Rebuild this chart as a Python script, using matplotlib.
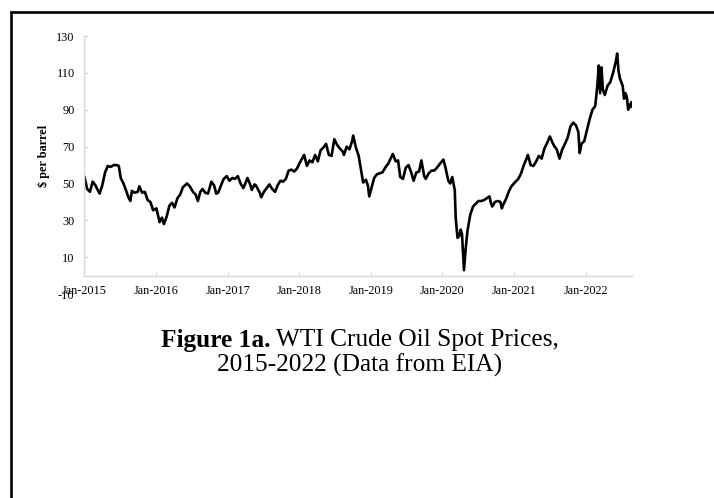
#!/usr/bin/env python3
import pandas as pd
import matplotlib.pyplot as plt
from matplotlib.lines import Line2D

# --- Dados (preço semanal aproximado) ---
DATAS = [
    "2015-01-02", "2015-01-16", "2015-01-30", "2015-02-13", "2015-02-27", "2015-03-13",
    "2015-03-20", "2015-04-03", "2015-04-17", "2015-05-01", "2015-05-15", "2015-06-01",
    "2015-06-15", "2015-06-26", "2015-07-06", "2015-07-20", "2015-08-03", "2015-08-14",
    "2015-08-24", "2015-09-01", "2015-09-15", "2015-10-01", "2015-10-09", "2015-10-23",
    "2015-11-06", "2015-11-20", "2015-12-04", "2015-12-18",
    "2016-01-04", "2016-01-20", "2016-02-01", "2016-02-11", "2016-02-25", "2016-03-10",
    "2016-03-24", "2016-04-05", "2016-04-20", "2016-05-04", "2016-05-18", "2016-06-08",
    "2016-06-22", "2016-07-08", "2016-07-22", "2016-08-02", "2016-08-15", "2016-08-26",
    "2016-09-09", "2016-09-23", "2016-10-10", "2016-10-24", "2016-11-04", "2016-11-14",
    "2016-11-30", "2016-12-12", "2016-12-28",
    "2017-01-10", "2017-01-25", "2017-02-08", "2017-02-22", "2017-03-08", "2017-03-22",
    "2017-04-05", "2017-04-12", "2017-04-26", "2017-05-04", "2017-05-18", "2017-05-25",
    "2017-06-14", "2017-06-21", "2017-07-05", "2017-07-19", "2017-08-02", "2017-08-16",
    "2017-08-31", "2017-09-13", "2017-09-27", "2017-10-11", "2017-10-25", "2017-11-08",
    "2017-11-22", "2017-12-06", "2017-12-20",
    "2018-01-05", "2018-01-26", "2018-02-09", "2018-02-23", "2018-03-09", "2018-03-23",
    "2018-04-06", "2018-04-20", "2018-05-04", "2018-05-18", "2018-06-01", "2018-06-15",
    "2018-06-29", "2018-07-13", "2018-07-27", "2018-08-10", "2018-08-17", "2018-08-31",
    "2018-09-14", "2018-09-28", "2018-10-03", "2018-10-17", "2018-10-31", "2018-11-14",
    "2018-11-23", "2018-12-07", "2018-12-17", "2018-12-24",
    "2019-01-04", "2019-01-18", "2019-02-01", "2019-02-15", "2019-03-01", "2019-03-15",
    "2019-04-01", "2019-04-23", "2019-05-08", "2019-05-20", "2019-05-31", "2019-06-14",
    "2019-06-28", "2019-07-12", "2019-07-26", "2019-08-07", "2019-08-21", "2019-09-04",
    "2019-09-16", "2019-09-30", "2019-10-08", "2019-10-23", "2019-11-06", "2019-11-20",
    "2019-12-04", "2019-12-18",
    "2020-01-06", "2020-01-17", "2020-01-31", "2020-02-10", "2020-02-20", "2020-03-04",
    "2020-03-09", "2020-03-18", "2020-03-27", "2020-04-03", "2020-04-10", "2020-04-20",
    "2020-04-29", "2020-05-08", "2020-05-22", "2020-06-05", "2020-06-19", "2020-07-03",
    "2020-07-17", "2020-07-31", "2020-08-14", "2020-08-28", "2020-09-04", "2020-09-11",
    "2020-09-25", "2020-10-09", "2020-10-23", "2020-10-30", "2020-11-06", "2020-11-20",
    "2020-12-04", "2020-12-18",
    "2021-01-08", "2021-01-22", "2021-02-05", "2021-02-19", "2021-03-05", "2021-03-12",
    "2021-03-26", "2021-04-09", "2021-04-23", "2021-05-07", "2021-05-21", "2021-06-04",
    "2021-06-18", "2021-07-02", "2021-07-16", "2021-07-23", "2021-08-06", "2021-08-20",
    "2021-09-03", "2021-09-17", "2021-10-01", "2021-10-15", "2021-10-29", "2021-11-12",
    "2021-11-24", "2021-12-01", "2021-12-10", "2021-12-24",
    "2022-01-07", "2022-01-21", "2022-02-04", "2022-02-18", "2022-03-01", "2022-03-08",
    "2022-03-15", "2022-03-22", "2022-03-29", "2022-04-08", "2022-04-22", "2022-05-06",
    "2022-05-20", "2022-06-03", "2022-06-10", "2022-06-17", "2022-06-24", "2022-07-08",
    "2022-07-15", "2022-07-22", "2022-07-29", "2022-08-05", "2022-08-12", "2022-08-19",
    "2022-08-22",
]
PRECOS = [
    53.5, 47.0, 45.5, 51.0, 49.0, 46.0,
    44.5, 49.0, 56.0, 59.5, 59.0, 60.0,
    60.0, 59.5, 53.0, 50.0, 46.0, 42.5,
    40.5, 46.0, 45.0, 45.5, 48.5, 45.0,
    45.5, 41.0, 40.0, 35.5,
    36.5, 29.0, 31.5, 28.0, 32.0, 38.0,
    39.5, 37.0, 42.0, 44.0, 48.0, 50.0,
    48.5, 45.5, 44.0, 40.5, 45.5, 47.0,
    45.0, 44.5, 51.0, 49.0, 44.5, 45.0,
    49.5, 52.5, 54.0,
    51.5, 53.0, 52.5, 54.0, 50.0, 47.5,
    51.0, 53.0, 49.5, 46.5, 49.5, 49.0,
    45.0, 42.5, 45.5, 47.5, 49.5, 47.0,
    45.5, 49.0, 51.5, 51.0, 52.5, 57.0,
    57.5, 56.5, 58.0,
    61.5, 65.5, 59.5, 62.5, 61.5, 65.5,
    62.0, 68.0, 69.5, 71.5, 65.5, 65.0,
    74.0, 71.0, 69.0, 67.5, 65.5, 70.0,
    68.5, 73.0, 76.0, 69.5, 65.0, 56.0,
    50.5, 52.0, 49.0, 43.0,
    47.5, 53.0, 55.0, 55.5, 56.0, 58.5,
    61.0, 66.0, 62.0, 62.5, 53.5, 52.5,
    58.5, 60.0, 56.0, 51.5, 56.0, 56.5,
    62.5, 54.0, 52.5, 55.5, 57.0, 57.0,
    58.5, 60.5,
    63.0, 58.5, 51.5, 50.0, 53.5, 46.5,
    31.0, 20.5, 21.5, 25.0, 22.5, 3.0,
    15.0, 24.5, 33.0, 37.5, 39.0, 40.5,
    40.5, 41.0, 42.0, 43.0, 39.5, 37.5,
    40.0, 40.5, 40.0, 36.5, 38.5, 41.5,
    45.5, 48.5,
    51.0, 52.5, 55.5, 60.0, 63.5, 65.5,
    60.0, 59.5, 62.0, 65.0, 63.5, 69.0,
    72.0, 75.5, 72.0, 70.5, 68.5, 63.5,
    68.5, 71.5, 75.0, 81.0, 83.0, 81.5,
    78.0, 66.5, 71.5, 73.0,
    79.0, 85.0, 90.0, 92.0, 103.0, 114.0,
    99.0, 113.0, 101.0, 98.0, 103.0, 105.0,
    110.0, 116.0, 120.5, 111.0, 107.0, 103.0,
    96.0, 99.0, 97.0, 90.0, 93.0, 91.5,
    94.0,
]
TICKS_Y = [-10, 10, 30, 50, 70, 90, 110, 130]
ANOS_X = list(range(2015, 2023))

FONTE = "Liberation Serif"
COR_EIXO = "#d9d9d9"


def gerar_grafico(caminho: str) -> None:
    fig = plt.figure(figsize=(7.14, 4.98), dpi=100)
    ax = fig.add_axes([0.118, 0.4094, 0.7667, 0.5183])

    datas = pd.to_datetime(DATAS)
    ax.plot(datas, PRECOS, color="black", lw=1.9, solid_joinstyle="round")

    ax.set_xlim(pd.Timestamp("2015-01-01"), pd.Timestamp("2022-08-23"))
    ax.set_ylim(-10, 130)

    # eixos no estilo Excel
    for lado in ("top", "right"):
        ax.spines[lado].set_visible(False)
    ax.spines["left"].set_bounds(0, 130)
    ax.spines["bottom"].set_position(("data", 0))
    for lado in ("left", "bottom"):
        ax.spines[lado].set_color(COR_EIXO)
        ax.spines[lado].set_linewidth(1.0)

    ticks_x = [pd.Timestamp(f"{a}-01-01") for a in ANOS_X]
    ax.set_xticks(ticks_x)
    ax.set_xticklabels([f"Jan-{a}" for a in ANOS_X])
    ax.set_yticks(TICKS_Y)
    ax.set_yticklabels([str(v) for v in TICKS_Y])

    ax.tick_params(axis="both", direction="in", length=3, width=1,
                   color=COR_EIXO, labelsize=8.8, labelcolor="black")
    ax.tick_params(axis="x", pad=7)
    ax.tick_params(axis="y", pad=7)
    ax.yaxis.get_major_ticks()[0].tick1line.set_visible(False)
    for rotulo in ax.get_xticklabels() + ax.get_yticklabels():
        rotulo.set_fontfamily(FONTE)

    ax.set_ylabel("$ per barrel", fontfamily=FONTE, fontweight="bold",
                  fontsize=8.8)
    ax.yaxis.set_label_coords(-0.063, 0.536)

    # legenda da figura (parte em negrito + parte normal)
    tam = 18.3
    y1 = 1 - 340 / 498
    t_neg = fig.text(0, y1, "Figure 1a.", fontfamily=FONTE,
                     fontweight="bold", fontsize=tam, va="center", ha="left")
    t_reg = fig.text(0, y1, " WTI Crude Oil Spot Prices,",
                     fontfamily=FONTE, fontsize=tam, va="center", ha="left")
    fig.text(360 / 714, 1 - 365 / 498, "2015-2022 (Data from EIA)",
             fontfamily=FONTE, fontsize=tam, va="center", ha="center")

    fig.canvas.draw()
    rend = fig.canvas.get_renderer()
    w_neg = t_neg.get_window_extent(rend).width
    w_reg = t_reg.get_window_extent(rend).width
    x0 = 360 - (w_neg + w_reg) / 2
    t_neg.set_x(x0 / 714)
    t_reg.set_x((x0 + w_neg) / 714)

    # moldura parcial (topo e esquerda)
    fig.add_artist(Line2D([10 / 714, 1], [1 - 12.3 / 498] * 2,
                          transform=fig.transFigure, color="black", lw=1.9,
                          marker="", solid_capstyle="butt"))
    fig.add_artist(Line2D([11.5 / 714] * 2, [0, 1 - 11 / 498],
                          transform=fig.transFigure, color="black", lw=1.9,
                          marker="", solid_capstyle="butt"))

    fig.savefig(caminho, dpi=100)
    plt.close(fig)


if __name__ == "__main__":
    gerar_grafico("out.png")
